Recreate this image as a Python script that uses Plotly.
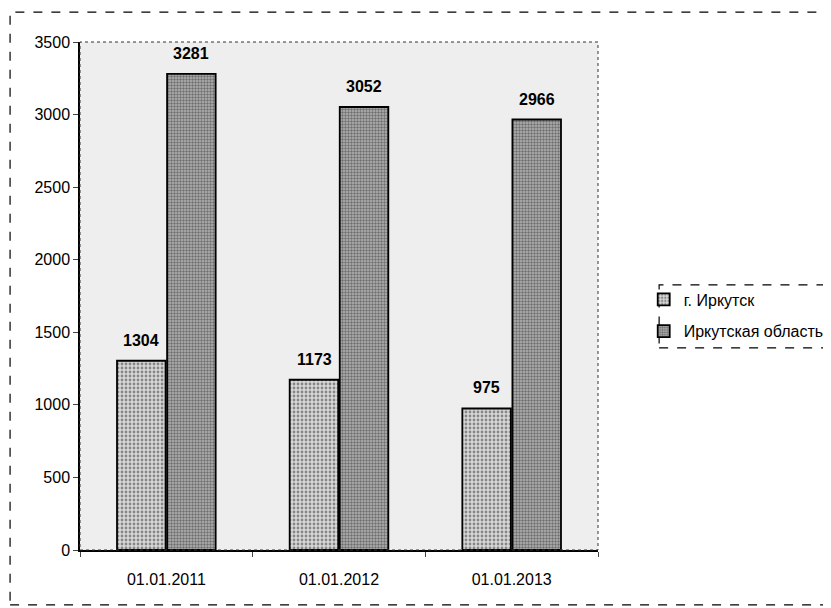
import plotly.graph_objects as go

categories = ["01.01.2011", "01.01.2012", "01.01.2013"]
irkutsk = [1304, 1173, 975]
oblast = [3281, 3052, 2966]
series_names = ["г. Иркутск", "Иркутская область"]
y_ticks = [0, 500, 1000, 1500, 2000, 2500, 3000, 3500]

font = "Liberation Sans, Arial, sans-serif"

fig = go.Figure()
fig.add_trace(go.Bar(
    x=categories, y=irkutsk, name=series_names[0], legendgroup="a",
    marker=dict(color="#d0d0d0", line=dict(color="black", width=1.8),
                pattern=dict(shape=".", fgcolor="#333333", bgcolor="#d8d8d8", size=4, solidity=0.4)),
))
fig.add_trace(go.Bar(
    x=categories, y=oblast, name=series_names[1], legendgroup="b",
    marker=dict(color="#a8a8a8", line=dict(color="black", width=1.8),
                pattern=dict(shape=".", fgcolor="#2a2a2a", bgcolor="#b4b4b4", size=3, solidity=0.5)),
))

# value labels above bars
for vals, shift in ((irkutsk, -25), (oblast, 25)):
    for c, v in zip(categories, vals):
        fig.add_annotation(x=c, y=v, text=f"<b>{v}</b>", showarrow=False,
                           xref="x", yref="y", xshift=shift, yshift=10,
                           yanchor="bottom", font=dict(family=font, size=16, color="black"))

fig.update_layout(
    width=831, height=608,
    margin=dict(l=72, r=241, t=34, b=66, autoexpand=False),
    paper_bgcolor="white",
    plot_bgcolor="#eeeeee",
    barmode="group",
    bargap=0.42,
    bargroupgap=0.03,
    font=dict(family=font, size=16, color="black"),
    showlegend=True,
    legend=dict(x=0.765, y=0.5485, xref="container", yref="container",
                xanchor="left", yanchor="top",
                borderwidth=0, font=dict(family=font, size=16),
                bgcolor="rgba(0,0,0,0)", tracegroupgap=8, itemwidth=30),
    yaxis=dict(range=[0, 3500], tickvals=y_ticks, ticks="outside", ticklen=5,
               showgrid=False, showline=True, linecolor="black", linewidth=1.5,
               zeroline=False, tickfont=dict(size=16)),
    xaxis=dict(showline=True, linecolor="black", linewidth=1.5, ticks="outside",
               tickson="boundaries", ticklen=5, showgrid=False,
               ticklabelstandoff=14, tickfont=dict(size=16)),
)

# dotted plot-area border (top/right)
fig.add_shape(type="rect", xref="paper", yref="paper", x0=0, x1=1, y0=0, y1=1,
              line=dict(color="#333333", width=1, dash="dot"), layer="above")
# dashed outer frame
fig.add_shape(type="rect", xref="paper", yref="paper",
              x0=-0.135, x1=1.6, y0=-0.108, y1=1.059,
              line=dict(color="black", width=1.2, dash="dash"))
# dashed legend frame
fig.add_shape(type="rect", xref="paper", yref="paper",
              x0=1.118, x1=1.6, y0=0.398, y1=0.522,
              line=dict(color="black", width=1.2, dash="dash"))

fig.write_html("out.html")
